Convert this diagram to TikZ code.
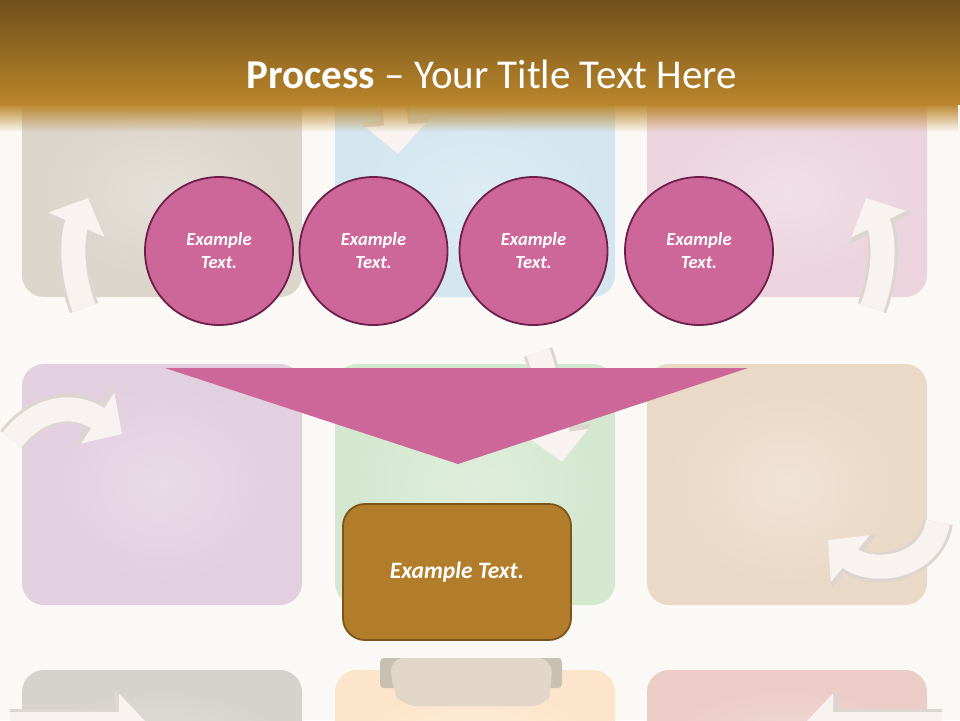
\documentclass[tikz,border=0pt]{standalone}
\usepackage{fontspec}
\setmainfont{Carlito}
\usetikzlibrary{arrows.meta,fadings}
\definecolor{bgc}{HTML}{FBF9F5}
\definecolor{bartop}{HTML}{70501C}
\definecolor{barbot}{HTML}{BA852A}
\definecolor{pinkf}{HTML}{CD6699}
\definecolor{pinkd}{HTML}{6E1F4A}
\definecolor{goldf}{HTML}{B27D2A}
\definecolor{goldd}{HTML}{7D5518}
\definecolor{tA}{HTML}{DCD5CC}
\definecolor{tB}{HTML}{D3E6EF}
\definecolor{tC}{HTML}{ECD4DE}
\definecolor{tD}{HTML}{E2CFE0}
\definecolor{tE}{HTML}{D4E8D0}
\definecolor{tF}{HTML}{EBD9C7}
\definecolor{tG}{HTML}{D6D2CD}
\definecolor{tH}{HTML}{FDE5CB}
\definecolor{tI}{HTML}{ECCCC7}
\definecolor{arrf}{HTML}{F8F3F0}
\definecolor{arre}{HTML}{DDD6D0}
\definecolor{tabc}{HTML}{E2D6C6}
\tikzfading[name=fadedown, top color=transparent!0, bottom color=transparent!100]
\tikzset{
  tile/.style={fill=#1, rounded corners=22pt},
  tileinner/.style={inner color=#1!75!white, outer color=#1, rounded corners=10pt},
  arrout/.style={line width=30pt, draw=arre, -{Triangle[length=34pt,width=68pt]}},
  arrin/.style={line width=24pt, draw=arrf, -{Triangle[length=29pt,width=59pt]}},
  circ/.style={circle, minimum size=148pt, inner sep=0pt, fill=pinkf, draw=pinkd, line width=1.8pt,
    text=white, font=\fontsize{18.5}{23}\selectfont\bfseries\itshape, align=center},
  gbox/.style={rectangle, rounded corners=22pt, minimum width=228pt, minimum height=136pt,
    fill=goldf, draw=goldd, line width=1.8pt, text=white, font=\fontsize{23.5}{28}\selectfont\bfseries\itshape},
}
\begin{document}
\begin{tikzpicture}[x=1pt,y=-1pt]
\useasboundingbox (0,0) rectangle (960,720);
\clip (0,0) rectangle (960,720);
\fill[bgc] (0,0) rectangle (960,720);
% background tiles
\foreach \x/\c [count=\i] in {22/tA,335/tB,647/tC}{
  \fill[tile=\c] (\x,90) rectangle ++(280,207);
  \shade[tileinner=\c] (\x+20,110) rectangle ++(240,167);
}
\foreach \x/\c in {22/tD,335/tE,647/tF}{
  \fill[tile=\c] (\x,364) rectangle ++(280,241);
  \shade[tileinner=\c] (\x+20,384) rectangle ++(240,201);
}
\foreach \x/\c in {22/tG,335/tH,647/tI}{
  \fill[tile=\c] (\x,670) rectangle ++(280,120);
  \shade[tileinner=\c] (\x+20,690) rectangle ++(240,100);
}
% faded arrows
\coordinate (a1s) at (84,308); \coordinate (a1e) at (88,198);
\draw[arrout] (a1s) .. controls (70,270) and (72,235) .. (a1e);
\draw[arrin]  (a1s) .. controls (70,270) and (72,235) .. (a1e);
\coordinate (a3s) at (872,308); \coordinate (a3e) at (866,198);
\draw[arrout] (a3s) .. controls (886,270) and (884,235) .. (a3e);
\draw[arrin]  (a3s) .. controls (886,270) and (884,235) .. (a3e);
\coordinate (a2s) at (392,70); \coordinate (a2e) at (398,154);
\draw[arrout] (a2s) -- (a2e);
\draw[arrin]  (a2s) -- (a2e);
\coordinate (a4s) at (12,440); \coordinate (a4e) at (122,434);
\draw[arrout] (a4s) .. controls (35,410) and (70,400) .. (a4e);
\draw[arrin]  (a4s) .. controls (35,410) and (70,400) .. (a4e);
\coordinate (a5s) at (538,352); \coordinate (a5e) at (562,462);
\draw[arrout] (a5s) .. controls (548,380) and (556,420) .. (a5e);
\draw[arrin]  (a5s) .. controls (548,380) and (556,420) .. (a5e);
\coordinate (a6s) at (938,522); \coordinate (a6e) at (828,540);
\draw[arrout] (a6s) .. controls (930,570) and (870,575) .. (a6e);
\draw[arrin]  (a6s) .. controls (930,570) and (870,575) .. (a6e);
\coordinate (a8s) at (10,724); \coordinate (a8e) at (148,724);
\draw[arrout] (a8s) -- (a8e);
\draw[arrin]  (a8s) -- (a8e);
\coordinate (a9s) at (942,724); \coordinate (a9e) at (804,724);
\draw[arrout] (a9s) -- (a9e);
\draw[arrin]  (a9s) -- (a9e);
% tab on bottom middle tile
\fill[tabc!75!gray, rounded corners=4pt] (380,658) rectangle (562,688);
\fill[tabc, rounded corners=14pt] (390,658) -- (393,692) -- (402,706) -- (546,706) -- (551,692) -- (552,658) -- cycle;
% title bar
\shade[top color=bartop, bottom color=barbot] (0,0) rectangle (960,104);
\fill[barbot, path fading=fadedown] (0,103.5) rectangle (960,132);
\node[text=white, font=\fontsize{41}{46}\selectfont] (title) at (492,74) {\textbf{Process} -- Your Title Text Here};
% circles
\node[circ] (c1) at (219,251) {Example\\Text.};
\node[circ] (c2) at (373.5,251) {Example\\Text.};
\node[circ] (c3) at (533.5,251) {Example\\Text.};
\node[circ] (c4) at (699,251) {Example\\Text.};
% funnel triangle
\coordinate (tl) at (165,368);
\coordinate (tr) at (748,368);
\coordinate (tp) at (458,464);
\fill[pinkf] (tl) -- (tr) -- (tp) -- cycle;
% result box
\node[gbox] (res) at (457,572) {Example Text.};
\end{tikzpicture}
\end{document}
